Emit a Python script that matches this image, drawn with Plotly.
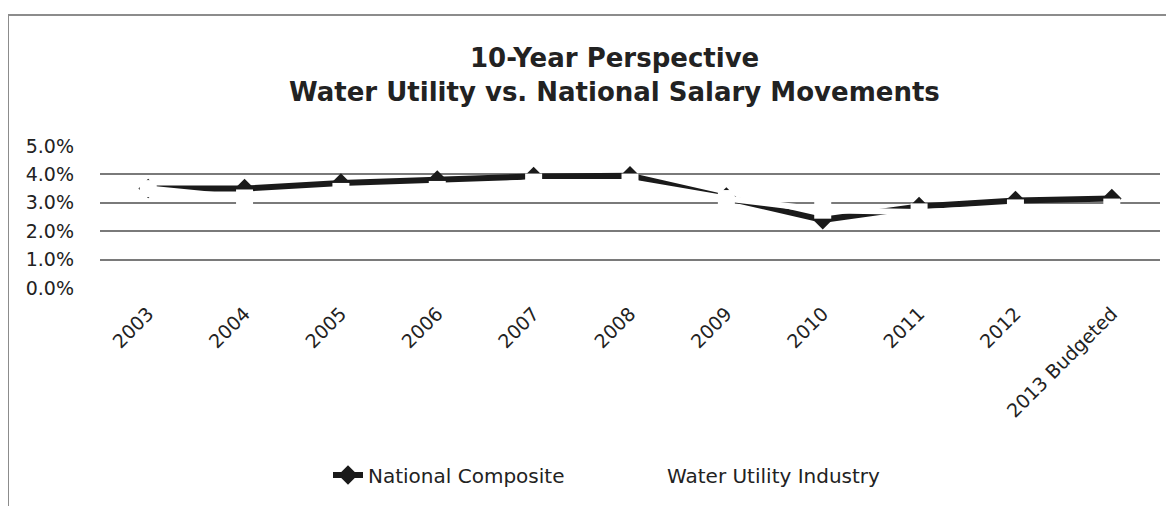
import plotly.graph_objects as go

years = ["2003", "2004", "2005", "2006", "2007", "2008", "2009", "2010", "2011", "2012", "2013 Budgeted"]
national_composite = [3.5, 3.5, 3.7, 3.8, 3.93, 3.95, 3.2, 2.4, 2.87, 3.08, 3.15]
water_utility = [3.5, 3.17, 3.4, 3.47, 3.73, 3.73, 3.15, 2.74, 2.68, 2.82, 2.85]
y_ticks = [0, 1, 2, 3, 4, 5]
y_tick_labels = ["0.0%", "1.0%", "2.0%", "3.0%", "4.0%", "5.0%"]
title_lines = ["10-Year Perspective", "Water Utility vs. National Salary Movements"]

W, H = 1174, 506
OFF = 8  # page body margin offset on screen
L, R, T, B = 92, 22, 138, 226
pw, ph = W - L - R, H - T - B


def px(sx):
    return (sx - OFF - L) / pw


def py(sy):
    return (H - B - (sy - OFF)) / ph


fig = go.Figure()
fig.add_trace(go.Scatter(
    x=years, y=national_composite, name="National Composite",
    mode="lines+markers",
    line=dict(color="#1a1a1a", width=6),
    marker=dict(symbol="diamond", size=15, color="#1a1a1a"),
))
fig.add_trace(go.Scatter(
    x=years, y=water_utility, name="Water Utility Industry",
    mode="lines+markers",
    line=dict(color="#ffffff", width=6),
    marker=dict(symbol="square", size=17, color="#ffffff",
                line=dict(width=0)),
))

font_family = "DejaVu Sans, Open Sans, sans-serif"

annotations = [
    dict(text="<b>" + title_lines[0] + "</b>", xref="paper", yref="paper",
         x=px(614), y=py(58), xanchor="center", yanchor="middle",
         showarrow=False, font=dict(family=font_family, size=26, color="#222222")),
    dict(text="<b>" + title_lines[1] + "</b>", xref="paper", yref="paper",
         x=px(614), y=py(92), xanchor="center", yanchor="middle",
         showarrow=False, font=dict(family=font_family, size=26, color="#222222")),
]

fig.update_layout(
    width=W, height=H,
    margin=dict(l=L, r=R, t=T, b=B),
    paper_bgcolor="white", plot_bgcolor="white",
    font=dict(family=font_family, color="#222222", size=19),
    annotations=annotations,
    xaxis=dict(
        type="category", range=[-0.5, len(years) - 0.5],
        tickangle=-45, showgrid=False, showline=False, zeroline=False,
        ticks="", ticklabelstandoff=10,
        tickfont=dict(size=19, color="#222222"),
    ),
    yaxis=dict(
        range=[0, 5], tickvals=y_ticks, ticktext=y_tick_labels,
        showgrid=True, gridcolor="#7a7a7a", gridwidth=2,
        zeroline=False, showline=False, ticks="", ticklabelstandoff=25,
        tickfont=dict(size=19, color="#222222"),
    ),
    legend=dict(
        orientation="h", x=px(328), xanchor="left",
        y=py(475), yanchor="middle",
        entrywidth=254, entrywidthmode="pixels",
        font=dict(size=20, color="#222222"),
        bgcolor="rgba(0,0,0,0)",
    ),
    showlegend=True,
    shapes=[
        dict(type="line", xref="paper", yref="paper",
             x0=px(8), x1=px(1182), y0=py(15), y1=py(15),
             line=dict(color="#8c8c8c", width=2)),
        dict(type="line", xref="paper", yref="paper",
             x0=px(8), x1=px(8), y0=py(15), y1=py(514),
             line=dict(color="#8c8c8c", width=2)),
    ],
)

fig.write_html("out.html")
